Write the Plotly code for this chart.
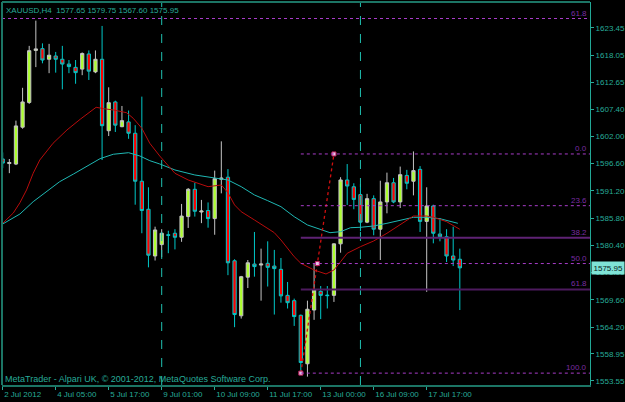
import plotly.graph_objects as go

# ---------------- data ----------------
bar_index = list(range(70))
opens = [1597.5, 1596.6, 1596.5, 1603.8, 1608.7, 1619.0, 1619.35, 1617.25, 1617.9, 1617.25,
         1616.3, 1615.65, 1615.3, 1618.3, 1614.75, 1617.25, 1603.1, 1608.8, 1603.9, 1604.85,
         1602.6, 1593.1, 1587.55, 1578.3, 1580.55, 1582.5, 1582.8, 1582.0, 1586.1, 1591.5,
         1587.0, 1587.3, 1585.7, 1593.5, 1593.9, 1577.35, 1566.45, 1574.1, 1576.7, 1576.5,
         1576.85, 1576.3, 1575.65, 1570.5, 1569.45, 1566.55, 1556.95, 1567.6, 1571.3, 1570.55,
         1570.5, 1580.7, 1593.35, 1592.0, 1590.45, 1585.0, 1589.65, 1583.6, 1589.0, 1592.8,
         1589.0, 1594.25, 1593.1, 1595.45, 1585.15, 1588.2, 1582.65, 1582.1, 1578.3, 1577.65]
highs = [1598.8, 1597.5, 1605.1, 1611.6, 1619.9, 1624.9, 1620.4, 1620.3, 1618.7, 1619.9,
         1617.1, 1617.1, 1618.6, 1619.0, 1619.0, 1623.85, 1611.7, 1609.05, 1608.0, 1607.1,
         1604.2, 1609.85, 1591.9, 1584.1, 1583.6, 1583.3, 1583.6, 1588.6, 1591.75, 1592.8,
         1589.4, 1588.9, 1595.2, 1601.0, 1595.5, 1577.65, 1574.35, 1577.5, 1583.05, 1579.75,
         1581.2, 1579.5, 1577.9, 1573.15, 1569.85, 1566.7, 1569.45, 1576.85, 1572.35, 1572.35,
         1580.8, 1593.9, 1596.5, 1592.7, 1592.55, 1590.6, 1590.3, 1593.2, 1594.8, 1593.75,
         1596.0, 1595.35, 1599.0, 1596.1, 1591.9, 1588.45, 1585.8, 1583.6, 1584.1, 1579.75]
lows = [1595.7, 1594.7, 1596.3, 1603.5, 1608.4, 1615.7, 1616.45, 1614.5, 1614.6, 1611.3,
        1614.5, 1612.4, 1614.1, 1613.15, 1614.5, 1597.3, 1602.05, 1602.85, 1603.8, 1601.5,
        1588.45, 1582.8, 1576.05, 1577.4, 1578.05, 1578.85, 1579.6, 1581.1, 1583.85, 1586.1,
        1584.8, 1583.9, 1582.5, 1590.7, 1574.5, 1564.2, 1565.9, 1571.95, 1574.2, 1569.45,
        1572.25, 1566.7, 1569.05, 1567.9, 1564.45, 1555.1, 1554.4, 1565.65, 1565.8, 1567.9,
        1569.2, 1578.95, 1588.4, 1587.55, 1583.2, 1584.8, 1582.4, 1577.5, 1586.75, 1588.75,
        1587.8, 1591.5, 1590.3, 1583.05, 1571.2, 1580.8, 1581.2, 1577.1, 1576.3, 1567.6]
closes = [1596.7, 1596.8, 1604.05, 1608.8, 1618.95, 1619.3, 1617.1, 1618.05, 1617.25, 1616.3,
          1615.8, 1614.6, 1618.4, 1614.9, 1617.25, 1604.1, 1608.65, 1604.2, 1605.1, 1602.6,
          1593.1, 1587.3, 1578.45, 1583.45, 1582.8, 1582.4, 1582.0, 1586.2, 1591.5, 1587.15,
          1587.2, 1585.7, 1593.6, 1593.7, 1576.95, 1566.7, 1574.2, 1576.95, 1576.2, 1576.7,
          1576.05, 1575.8, 1570.4, 1569.05, 1566.3, 1557.2, 1567.75, 1571.55, 1570.5, 1570.45,
          1580.7, 1593.35, 1592.15, 1589.5, 1585.0, 1589.65, 1583.6, 1589.0, 1592.8, 1589.0,
          1594.4, 1592.7, 1595.2, 1585.15, 1588.2, 1582.8, 1582.1, 1578.3, 1577.5, 1575.95]

fast_ma_x = [0, 1.6, 2.6, 3.6, 4.6, 5.6, 7.6, 9.7, 11.7, 13.2, 14.1, 15.2, 16.7, 18.7, 19.7, 21,
             22.2, 23.7, 25, 26, 28, 29.5, 31, 33, 34, 35, 36, 38, 40, 41, 42, 43, 44, 45, 47,
             48.8, 50, 51, 52, 54, 56, 58, 60, 62, 64, 65, 67, 69]
fast_ma_y = [1584.77, 1586.81, 1588.85, 1591.37, 1594.68, 1597.31, 1600.62, 1603.25, 1605.37,
             1606.87, 1607.74, 1607.47, 1607.21, 1606.67, 1605.57, 1603.59, 1600.62, 1598.1,
             1596.12, 1594.67, 1593.35, 1592.69, 1592.02, 1592.36, 1590.83, 1588.4, 1587.07,
             1585.43, 1583.78, 1582.91, 1581.47, 1579.82, 1578.16, 1576.85, 1575.52, 1574.73,
             1575.52, 1577.17, 1578.83, 1580.14, 1581.27, 1582.79, 1584.44, 1586.21, 1586.21,
             1585.96, 1585.09, 1583.58]
slow_ma_x = [0, 2.6, 4.6, 6.6, 8.6, 10.7, 12.7, 14.7, 16.7, 19, 20.7, 22.2, 23.7, 26, 29, 32,
             34, 36, 38, 40, 42, 44, 46, 47.9, 49.4, 51, 52.5, 54, 56, 58, 60, 62, 64, 66, 68.7]
slow_ma_y = [1584.63, 1586.61, 1589.05, 1591.03, 1593.01, 1594.54, 1596.12, 1597.57, 1598.44,
             1598.75, 1598.1, 1597.17, 1596.52, 1595.33, 1594.34, 1593.69, 1593.35, 1592.02,
             1590.38, 1589.25, 1588.06, 1586.08, 1584.44, 1583.59, 1582.91, 1583.11, 1583.9,
             1583.98, 1584.24, 1584.77, 1585.29, 1585.96, 1585.96, 1585.68, 1584.77]

x_tick_bars = [0, 8, 16, 24, 32, 40, 48, 56, 64]
x_tick_labels = ["2 Jul 2012", "4 Jul 05:00", "5 Jul 17:00", "9 Jul 01:00", "10 Jul 09:00",
                 "11 Jul 17:00", "13 Jul 00:00", "16 Jul 09:00", "17 Jul 17:00"]
y_tick_vals = [1623.45, 1618.05, 1612.65, 1607.40, 1602.00, 1596.60, 1591.20, 1585.80,
               1580.40, 1575.00, 1569.60, 1564.20, 1558.95, 1553.55]

separator_bars = [24, 54]

fib_start_bar = 45
fib_end_bar = 50
fib_low = 1555.1
fib_high = 1598.5
fib_levels = [0.0, 23.6, 38.2, 50.0, 61.8, 100.0]
fib_labels = ["0.0", "23.6", "38.2", "50.0", "61.8", "100.0"]
fib_ext_level = 161.8
fib_ext_label = "61.8"

title_text = "XAUUSD,H4  1577.65 1579.75 1567.60 1575.95"
copyright_text = "MetaTrader - Alpari UK, \u00a9 2001-2012, MetaQuotes Software Corp."
last_price = 1575.95

# ---------------- styles ----------------
FONT = "Liberation Sans"
TEAL = "#27ab98"
BORDER = "#1c7565"

fig = go.Figure()

fig.add_trace(go.Candlestick(
    x=bar_index, open=opens, high=highs, low=lows, close=closes,
    increasing=dict(fillcolor="#adff2f", line=dict(color="#c4c4c4", width=1)),
    decreasing=dict(fillcolor="#ff0000", line=dict(color="#00c8c8", width=1)),
    whiskerwidth=0, showlegend=False, hoverinfo="skip"))

fig.add_trace(go.Scatter(x=slow_ma_x, y=slow_ma_y, mode="lines",
                         line=dict(color="#1fb8b4", width=1), showlegend=False, hoverinfo="skip"))
fig.add_trace(go.Scatter(x=fast_ma_x, y=fast_ma_y, mode="lines",
                         line=dict(color="#b80c0c", width=1), showlegend=False, hoverinfo="skip"))

rng = fib_high - fib_low
shapes = []
annotations = []

# period separators
for b in separator_bars:
    shapes.append(dict(type="line", xref="x", yref="paper", x0=b, x1=b, y0=0, y1=1,
                       line=dict(color="#1fc0b0", width=1, dash="dash")))

# fib levels
for lvl, lab in zip(fib_levels, fib_labels):
    price = fib_high - lvl / 100.0 * rng
    if lab in ("38.2", "61.8"):
        ln = dict(color="#5e2274" if lab == "38.2" else "#4d1a5e", width=2)
    else:
        ln = dict(color="#a83cc8", width=1, dash="dot")
    shapes.append(dict(type="line", xref="x", yref="y", x0=fib_start_bar, x1=88.65,
                       y0=price, y1=price, line=ln))
    annotations.append(dict(xref="paper", yref="y", x=0.998, y=price, text=lab,
                            showarrow=False, xanchor="right", yanchor="bottom",
                            font=dict(family=FONT, size=8, color="#7a2ca0"),
                            yshift=-1))
ext_price = fib_high + (fib_ext_level - 100.0) / 100.0 * rng
shapes.append(dict(type="line", xref="paper", yref="y", x0=0, x1=1, y0=ext_price, y1=ext_price,
                   line=dict(color="#a83cc8", width=1, dash="dot")))
annotations.append(dict(xref="paper", yref="y", x=0.998, y=ext_price, text=fib_ext_label,
                        showarrow=False, xanchor="right", yanchor="bottom",
                        font=dict(family=FONT, size=8, color="#7a2ca0"), yshift=-1))

# fib trend line
fig.add_trace(go.Scatter(x=[fib_start_bar, fib_end_bar], y=[fib_low, fib_high], mode="lines",
                         line=dict(color="#d01010", width=1.3, dash="dot"),
                         showlegend=False, hoverinfo="skip"))
fig.add_trace(go.Scatter(x=[fib_start_bar, (fib_start_bar + fib_end_bar) / 2.0, fib_end_bar],
                         y=[fib_low, (fib_low + fib_high) / 2.0, fib_high], mode="markers",
                         marker=dict(symbol="square", size=4, color="#e8c8e8",
                                     line=dict(color="#c02060", width=1)),
                         showlegend=False, hoverinfo="skip"))

# borders (top / left)
shapes.append(dict(type="line", xref="paper", yref="paper", x0=0, x1=1, y0=1, y1=1,
                   line=dict(color=BORDER, width=2)))
shapes.append(dict(type="line", xref="paper", yref="paper", x0=0, x1=0, y0=0, y1=1,
                   line=dict(color=BORDER, width=2)))

# texts
annotations.append(dict(xref="paper", yref="paper", x=0, y=1, xshift=2, yshift=-2,
                        text=title_text, showarrow=False, xanchor="left", yanchor="top",
                        font=dict(family=FONT, size=8, color=TEAL)))
annotations.append(dict(xref="paper", yref="paper", x=0, y=0, xshift=1, yshift=-1,
                        text=copyright_text, showarrow=False, xanchor="left", yanchor="bottom",
                        font=dict(family=FONT, size=9, color=TEAL)))
annotations.append(dict(xref="paper", yref="y", x=1, y=last_price, xshift=1,
                        text=f"{last_price:.2f}", showarrow=False,
                        xanchor="left", yanchor="middle", bgcolor="#7fe3d6",
                        font=dict(family=FONT, size=8, color="#0a2220"),
                        borderpad=1.5))

fig.update_layout(
    width=625, height=402,
    margin=dict(l=2, r=35, t=2, b=17, autoexpand=False),
    paper_bgcolor="#000000", plot_bgcolor="#000000",
    shapes=shapes, annotations=annotations,
    showlegend=False,
    xaxis=dict(range=[-0.106, 88.65], rangeslider=dict(visible=False),
               showgrid=False, zeroline=False, automargin=False,
               showline=True, linecolor=BORDER, linewidth=2,
               tickmode="array", tickvals=x_tick_bars, ticktext=x_tick_labels,
               ticks="outside", ticklen=3, tickcolor=TEAL, tickangle=0,
               ticklabelposition="outside right",
               tickfont=dict(family=FONT, size=8, color=TEAL)),
    yaxis=dict(range=[1552.75, 1628.59], side="right",
               showgrid=False, zeroline=False, automargin=False,
               showline=True, linecolor="#22a896", linewidth=1,
               tickmode="array", tickvals=y_tick_vals,
               ticktext=[f"{v:.2f}" for v in y_tick_vals],
               ticks="outside", ticklen=3, tickcolor=TEAL,
               tickfont=dict(family=FONT, size=8, color=TEAL)),
)

fig.write_html("out.html", config={"displayModeBar": False},
               post_script="document.body.style.margin='0';document.body.style.background='#000';")
